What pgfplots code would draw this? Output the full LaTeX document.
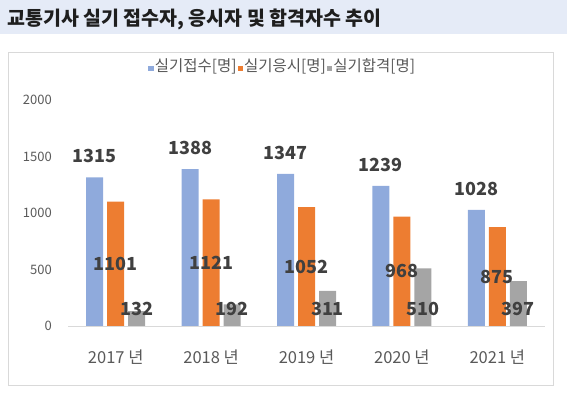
\documentclass[border=0pt]{standalone}
\usepackage{fontspec}
\setmainfont{Noto Sans CJK KR}
\usepackage{pgfplots}
\pgfplotsset{compat=1.18}
\definecolor{cblue}{HTML}{8FAADC}
\definecolor{corange}{HTML}{ED7D31}
\definecolor{cgray}{HTML}{A5A5A5}
\definecolor{titlebg}{HTML}{E5EBF7}
\definecolor{titletext}{HTML}{1E1E1E}
\definecolor{labeltext}{HTML}{404040}
\definecolor{ticktext}{HTML}{595959}
\definecolor{framegray}{HTML}{D9D9D9}
\begin{document}
\begin{tikzpicture}
\useasboundingbox (0,0) rectangle (567pt,393pt);
\fill[titlebg] (0,359pt) rectangle (567pt,393pt);
\node[anchor=west, font=\fontsize{19.5}{22}\selectfont\bfseries, text=titletext, inner sep=0pt] at (7pt,374pt) {교통기사 실기 접수자, 응시자 및 합격자수 추이};
\draw[framegray, line width=0.8pt] (8pt,8pt) rectangle (553pt,341pt);
\begin{axis}[
  at={(68pt,67pt)}, anchor=south west,
  scale only axis, width=477pt, height=226pt,
  ymin=0, ymax=2000, xmin=-0.5, xmax=4.5,
  ytick={0,500,1000,1500,2000},
  xtick={0,1,2,3,4},
  xticklabels={2017 년,2018 년,2019 년,2020 년,2021 년},
  axis x line*=bottom, axis y line*=left,
  x axis line style={draw=framegray, line width=0.8pt, -},
  y axis line style={draw=none},
  tick style={draw=none}, major tick length=0pt,
  /pgf/number format/assume math mode=true,
  /pgf/number format/1000 sep={},
  yticklabel style={font=\fontsize{13}{15}\selectfont, text=ticktext, anchor=east, inner sep=0pt, xshift=-16pt},
  xticklabel style={font=\fontsize{16.5}{19}\selectfont, text=ticktext, anchor=center, inner sep=0pt, yshift=-31pt},
  ybar=0pt, bar width=17pt,
  legend style={at={(0.449,1.150)}, anchor=center, draw=none, fill=none,
    legend columns=3, font=\fontsize{15.5}{17}\selectfont, text=ticktext,
    inner sep=0pt, nodes={inner sep=1pt},
    /tikz/every even column/.append style={column sep=0pt}},
  legend image code/.code={\fill[#1,draw=none] (1pt,-5pt) rectangle (6.5pt,0.5pt);},
  visualization depends on={rawy \as \ry},
  nodes near coords,
  nodes near coords style={font=\fontsize{18}{20}\selectfont\bfseries, text=labeltext, inner sep=0pt},
]
\addplot[fill=cblue, draw=none, bar shift=-21pt,
  every node near coord/.append style={anchor=center, yshift=21pt}]
  coordinates {(0,1315) (1,1388) (2,1347) (3,1239) (4,1028)};
\addlegendentry{실기접수[명]}
\addplot[fill=corange, draw=none, bar shift=0pt,
  every node near coord/.append style={anchor=center, yshift={-0.0565*\ry*1pt}}]
  coordinates {(0,1101) (1,1121) (2,1052) (3,968) (4,875)};
\addlegendentry{실기응시[명]}
\addplot[fill=cgray, draw=none, bar shift=21pt,
  every node near coord/.append style={anchor=center, yshift={17pt-0.113*\ry*1pt}}]
  coordinates {(0,132) (1,192) (2,311) (3,510) (4,397)};
\addlegendentry{실기합격[명]}
\end{axis}
\end{tikzpicture}
\end{document}
